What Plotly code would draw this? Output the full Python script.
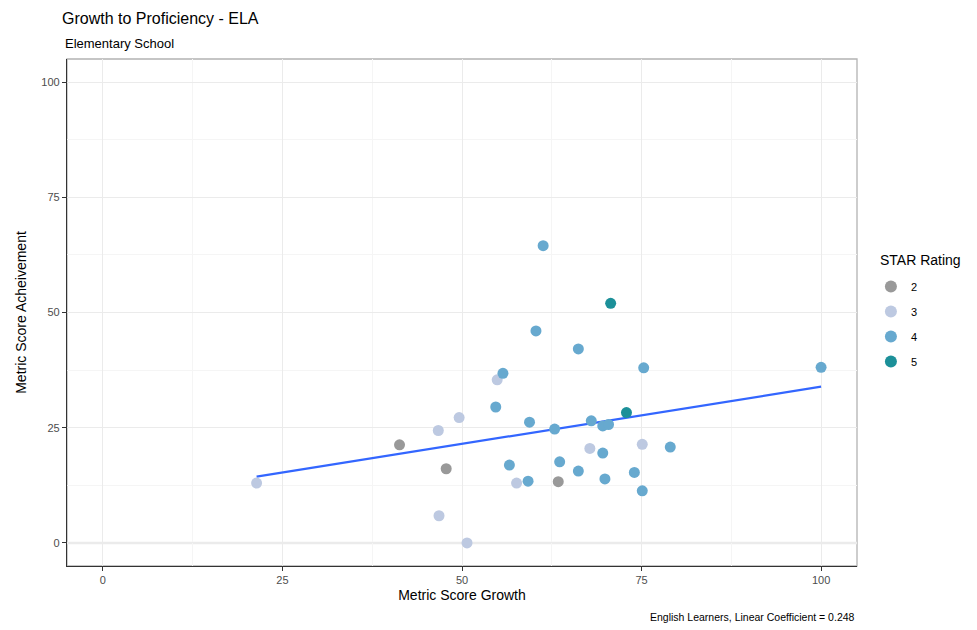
import plotly.graph_objects as go

growth = [21.4, 41.3, 46.7, 49.6, 47.8, 46.8, 50.7, 54.9, 55.7, 54.7,
          56.6, 57.6, 59.2, 59.4, 60.3, 61.3, 62.9, 63.6, 63.4, 66.2,
          66.2, 67.8, 68.0, 69.6, 70.4, 69.6, 69.9, 70.7, 72.9, 75.1,
          75.3, 74.0, 75.1, 79.0, 100.0]
achievement = [13.0, 21.3, 24.4, 27.2, 16.1, 5.9, 0.0, 35.4, 36.8, 29.5,
               16.9, 13.0, 13.4, 26.2, 46.0, 64.5, 24.7, 17.6, 13.3, 42.1,
               15.6, 20.5, 26.5, 25.4, 25.7, 19.5, 13.9, 52.0, 28.3, 21.4,
               38.0, 15.3, 11.3, 20.8, 38.1]
star = [3, 2, 3, 3, 2, 3, 3, 3, 4, 4,
        4, 3, 4, 4, 4, 4, 4, 4, 2, 4,
        4, 3, 4, 4, 4, 4, 4, 5, 5, 3,
        4, 4, 4, 4, 4]

ratings = [2, 3, 4, 5]
rating_colors = ["#999999", "#bdc9e1", "#67a9cf", "#1c9099"]

fit_slope = 0.248
fit_intercept = 9.1

tick_vals = [0, 25, 50, 75, 100]

FONT = "Liberation Sans, Arial, sans-serif"

# page body has an 8px margin, so the figure is a bit smaller than the window
W, H = 969, 622
ML, MR, MT, MB = 54, 120, 51, 64
PH = H - MT - MB

fig = go.Figure()

# lm fit line over the data range
x_lo, x_hi = min(growth), max(growth)
fig.add_trace(go.Scatter(
    x=[x_lo, x_hi],
    y=[fit_intercept + fit_slope * x_lo, fit_intercept + fit_slope * x_hi],
    mode="lines", line=dict(color="#3366FF", width=2.2),
    showlegend=False, hoverinfo="skip",
))

for r, c in zip(ratings, rating_colors):
    xs = [g for g, s in zip(growth, star) if s == r]
    ys = [a for a, s in zip(achievement, star) if s == r]
    fig.add_trace(go.Scatter(
        x=xs, y=ys, mode="markers", name=str(r), legendgroup=str(r),
        marker=dict(color=c, size=11, line_width=0),
    ))

axis_common = dict(
    range=[-5, 105], tickvals=tick_vals,
    showgrid=True, gridcolor="#ebebeb", gridwidth=1,
    minor=dict(tickvals=[12.5, 37.5, 62.5, 87.5], showgrid=True,
               gridcolor="#f5f5f5", gridwidth=1),
    showline=True, linecolor="#333333", linewidth=1.3,
    ticks="outside", ticklen=4, tickcolor="#333333",
    tickfont=dict(family=FONT, size=11, color="#4d4d4d"),
    zeroline=False, mirror=False,
)

fig.update_xaxes(title=dict(text="Metric Score Growth", standoff=4,
                            font=dict(family=FONT, size=14, color="#000000")),
                 **axis_common)
fig.update_yaxes(title=dict(text="Metric Score Acheivement", standoff=11,
                            font=dict(family=FONT, size=14, color="#000000")),
                 **axis_common)

# light panel border on top/right, slightly heavier line at y = 0
fig.add_shape(type="rect", xref="paper", yref="paper", x0=0, x1=1, y0=0, y1=1,
              line=dict(color="#b3b3b3", width=1.3), layer="below")
fig.add_shape(type="line", xref="paper", yref="y", x0=0, x1=1, y0=0, y1=0,
              line=dict(color="#ebebeb", width=2.5), layer="below")

fig.update_layout(
    width=W, height=H,
    plot_bgcolor="#ffffff", paper_bgcolor="#ffffff",
    margin=dict(l=ML, r=MR, t=MT, b=MB),
    font=dict(family=FONT, color="#000000"),
    title=dict(text="Growth to Proficiency - ELA", x=ML / W, xanchor="left",
               y=1 - 10 / H, yanchor="middle",
               font=dict(family=FONT, size=16, color="#000000")),
    legend=dict(
        x=1.0176, xanchor="left", y=1 - (264 - MT) / PH, yanchor="top",
        font=dict(family=FONT, size=11, color="#000000"),
        tracegroupgap=6, itemsizing="constant", traceorder="grouped",
        bgcolor="rgba(0,0,0,0)",
    ),
    annotations=[
        dict(text="Elementary School", xref="paper", yref="paper",
             x=0, xanchor="left", xshift=-4, y=1 + 16 / PH, yanchor="middle",
             showarrow=False, font=dict(family=FONT, size=13, color="#000000")),
        dict(text="STAR Rating", xref="paper", yref="paper",
             x=(872 - ML) / 795, xanchor="left", xshift=-2,
             y=1 - (252 - MT) / PH, yanchor="middle",
             showarrow=False, font=dict(family=FONT, size=14, color="#000000")),
        dict(text="English Learners, Linear Coefficient = 0.248", xref="paper",
             yref="paper", x=1, xanchor="right", y=-51 / PH, yanchor="middle",
             showarrow=False, font=dict(family=FONT, size=10.5, color="#000000")),
    ],
)

fig.write_html("out.html")
